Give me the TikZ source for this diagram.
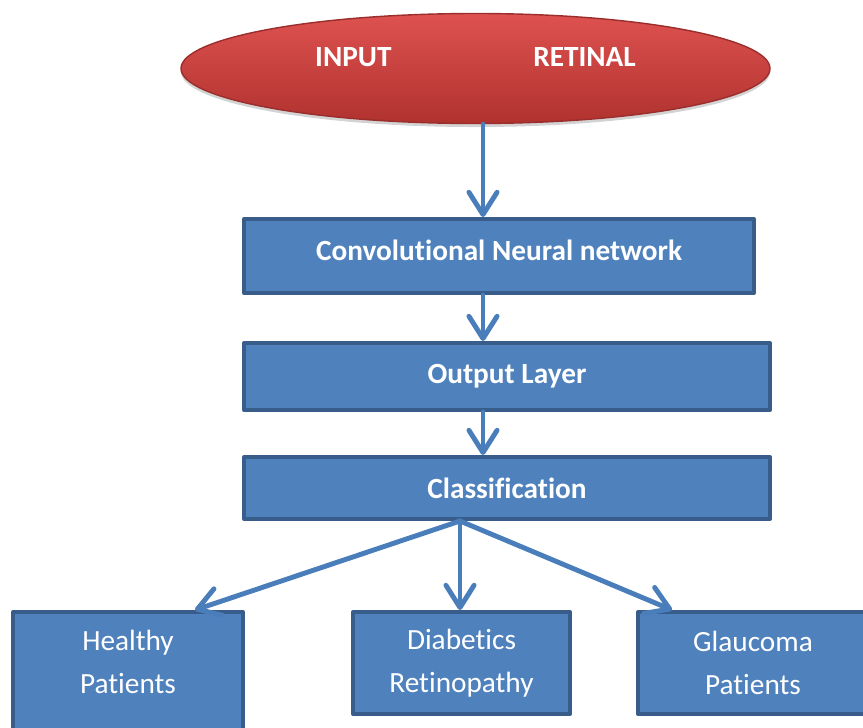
\documentclass[tikz,border=0pt]{standalone}
\usepackage{fontspec}
\setmainfont{Carlito}[Ligatures=NoCommon]
\usetikzlibrary{arrows.meta,shapes.geometric,shadows}

\definecolor{boxfill}{HTML}{4F81BD}
\definecolor{boxline}{HTML}{385D8A}
\definecolor{arrowcol}{HTML}{4A7EBB}
\definecolor{redtop}{HTML}{DE5250}
\definecolor{redbot}{HTML}{B0322F}
\definecolor{redline}{HTML}{9A2E2C}

\begin{document}
\begin{tikzpicture}[line cap=round,line join=round,x=0.03cm,y=-0.03cm,
    blockbox/.style={draw=boxline,fill=boxfill,line width=3.4pt,rectangle,
      text=white,font=\fontsize{25}{36.5}\selectfont\bfseries,inner sep=0pt},
    leafbox/.style={draw=boxline,fill=boxfill,line width=3.4pt,rectangle,
      text=white,font=\fontsize{25}{36.5}\selectfont,align=center,inner sep=0pt},
    arr/.style={draw=arrowcol,line width=4.2pt,
      -{Straight Barb[length=19pt,width=24pt,line width=4.2pt,round]}}]
  \useasboundingbox (0,0) rectangle (863,728);

  % input ellipse
  \node[ellipse,draw=redline,line width=1.2pt,top color=redtop,bottom color=redbot,
    drop shadow={shadow xshift=0pt,shadow yshift=-3pt,opacity=0.35},
    minimum width=17.67cm,minimum height=3.3cm,inner sep=0pt,
    text=white,font=\fontsize{25}{30}\selectfont\bfseries] (input) at (475.5,68.5)
    {\raisebox{10pt}[\height][\depth]{INPUT\hspace{121pt}RETINAL}};

  % main chain
  \node[blockbox,minimum width=15.3cm,minimum height=2.22cm] (cnn) at (499,256)
    {\raisebox{5pt}[\height][\depth]{Convolutional Neural network}};
  \node[blockbox,minimum width=15.78cm,minimum height=2.01cm] (out) at (507,376.5)
    {Output Layer};
  \node[blockbox,minimum width=15.78cm,minimum height=1.86cm] (cls) at (507,488)
    {Classification};

  % classes
  \node[leafbox,minimum width=6.9cm,minimum height=3.84cm] (healthy) at (128,676)
    {\raisebox{11pt}[\height][\depth]{\begin{tabular}{@{}c@{}}Healthy\\Patients\end{tabular}}};
  \node[leafbox,minimum width=6.51cm,minimum height=3.06cm] (diab) at (461.5,663)
    {Diabetics\\Retinopathy};
  \node[leafbox,minimum width=6.9cm,minimum height=3.06cm] (glauc) at (753,663)
    {Glaucoma\\Patients};

  \coordinate (ax) at (483,0);
  \coordinate (mx) at (460,0);
  \coordinate (hx) at (195,0);
  \coordinate (gx) at (672,0);

  \draw[arr] (input.south -| ax) -- (cnn.north -| ax);
  \draw[arr] (cnn.south -| ax) -- (out.north -| ax);
  \draw[arr] (out.south -| ax) -- (cls.north -| ax);

  \draw[arr] (cls.south -| mx) -- (healthy.north -| hx);
  \draw[arr] (cls.south -| mx) -- (diab.north -| mx);
  \draw[arr] (cls.south -| mx) -- (glauc.north -| gx);
\end{tikzpicture}
\end{document}
